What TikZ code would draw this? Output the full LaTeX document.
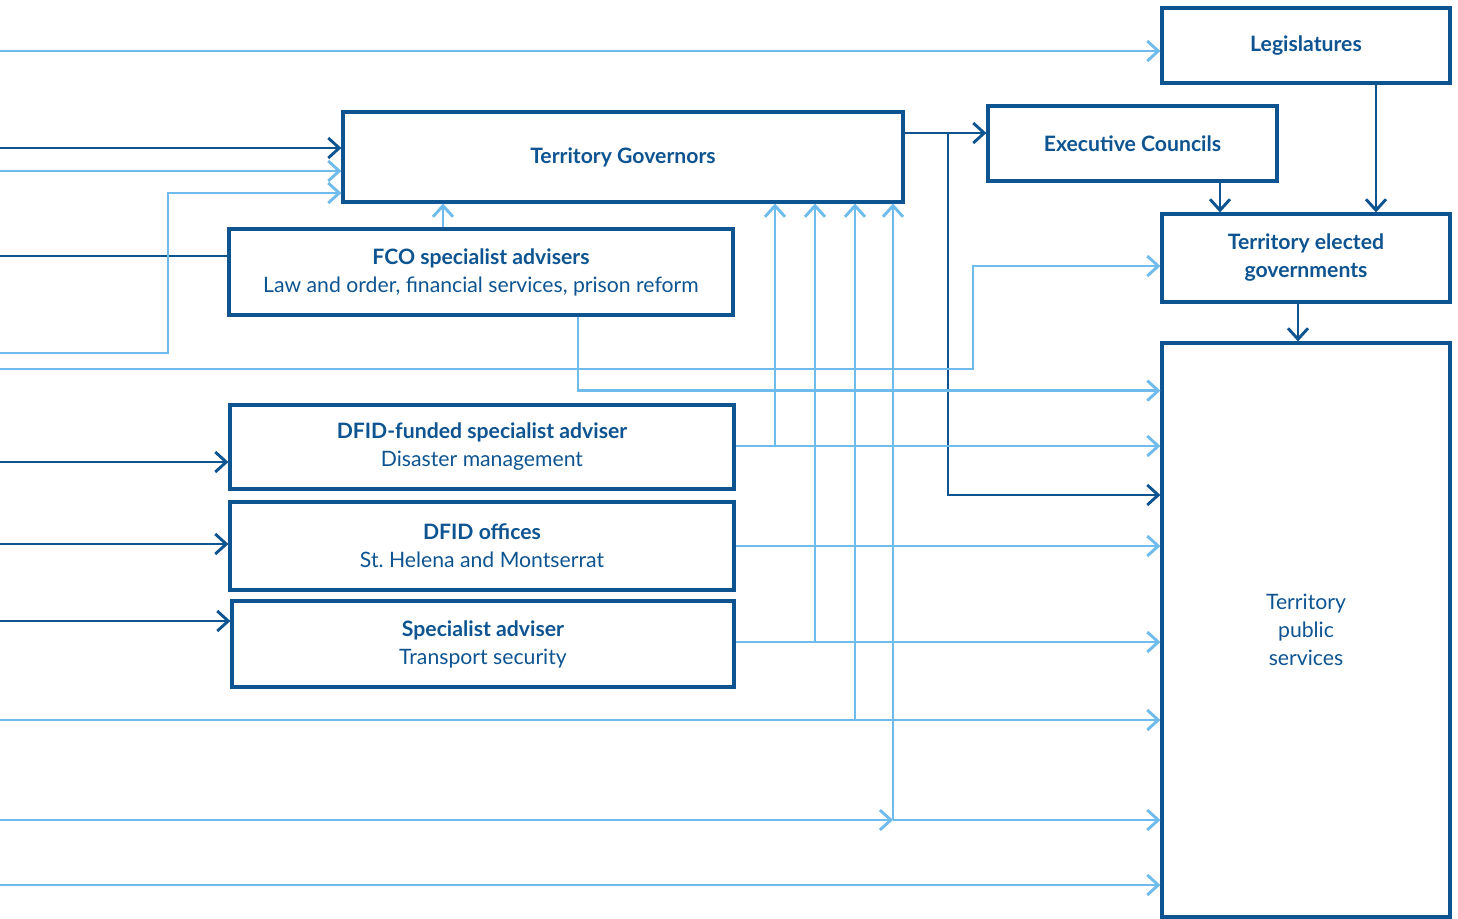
\documentclass[tikz,border=0pt]{standalone}
\usepackage{fontspec}
\setmainfont{Lato}
\usetikzlibrary{arrows.meta, calc}
\definecolor{fcodark}{HTML}{0E5491}
\definecolor{fcolite}{HTML}{6FBBEB}
\tikzset{
	orgbox/.style={draw=fcodark, line width=1.6pt, text=fcodark, align=center, inner sep=0pt,
		font=\fontsize{10.6}{14}\selectfont},
	darkline/.style={draw=fcodark, line width=1.45pt},
	liteline/.style={draw=fcolite, line width=1.45pt},
	barb/.style={-{Straight Barb[length=5.5pt, width=10pt]}}
}
\begin{document}
\begin{tikzpicture}[x=0.5pt, y=-0.5pt, line cap=butt]
	\useasboundingbox (0,0) rectangle (1458,918);

	% boxes
	\node[orgbox, minimum width=144pt, minimum height=37.5pt] (Leg) at (1306,45.5) {\textbf{Legislatures}};
	\node[orgbox, minimum width=280pt, minimum height=45pt] (Gov) at (623,157) {\textbf{Territory Governors}};
	\node[orgbox, minimum width=144.5pt, minimum height=37.5pt] (Exe) at (1132.5,143.5) {\textbf{Executive Councils}};
	\node[orgbox, minimum width=144pt, minimum height=44pt] (Elec) at (1306,258) {\textbf{Territory elected}\\\textbf{governments}};
	\node[orgbox, minimum width=252pt, minimum height=43pt] (FCO) at (481,272) {\textbf{FCO specialist advisers}\\Law and order, financial services, prison reform};
	\node[orgbox, minimum width=252pt, minimum height=42pt] (DFa) at (482,447) {\textbf{DFID-funded specialist adviser}\\Disaster management};
	\node[orgbox, minimum width=252pt, minimum height=44pt] (DFo) at (482,546) {\textbf{DFID offices}\\St.~Helena and Montserrat};
	\node[orgbox, minimum width=251pt, minimum height=43pt] (Spec) at (483,644) {\textbf{Specialist adviser}\\Transport security};
	\node[orgbox, minimum width=144pt, minimum height=287pt] (Pub) at (1306,630) {Territory\\public\\services};

	% free ends on the left
	\coordinate (L1) at (0,51);
	\coordinate (D1) at (0,148);
	\coordinate (L2) at (0,171);
	\coordinate (D2) at (0,256);
	\coordinate (L3) at (0,353);
	\coordinate (L4) at (0,369);
	\coordinate (D3) at (0,462);
	\coordinate (D4) at (0,544);
	\coordinate (D5) at (0,621);
	\coordinate (L5) at (0,720);
	\coordinate (L6) at (0,820);
	\coordinate (L7) at (0,885);

	% bends and junctions
	\coordinate (B3) at (168,193);
	\coordinate (B4) at (973,266);
	\coordinate (F) at ($(FCO.south)+(97,0)$);
	\coordinate (FO) at ($(F)+(0,74)$);
	\coordinate (FU) at ($(FCO.north)+(-38,0)$);
	\coordinate (G) at (948,133);
	\coordinate (GP) at (948,495);
	\coordinate (E) at ($(Exe.south)+(87.5,0)$);
	\coordinate (LS) at ($(Leg.south)+(70,0)$);
	\coordinate (ES) at ($(Elec.south)+(-8,0)$);
	\coordinate (Ja) at (775,446);
	\coordinate (Js) at (815,642);
	\coordinate (J5) at (855,720);
	\coordinate (J6) at (893,820);

	% dark connectors
	\draw[darkline, barb] (D1) -- (D1 -| Gov.west);
	\draw[darkline] (D2) -- (D2 -| FCO.west);
	\draw[darkline, barb] (D3) -- (D3 -| DFa.west);
	\draw[darkline, barb] (D4) -- (D4 -| DFo.west);
	\draw[darkline, barb] (D5) -- (D5 -| Spec.west);
	\draw[darkline, barb] (G -| Gov.east) -- (G -| Exe.west);
	\draw[darkline, barb] (G) -- (GP) -- (GP -| Pub.west);
	\draw[darkline, barb] (E) -- (E |- Elec.north);
	\draw[darkline, barb] (LS) -- (LS |- Elec.north);
	\draw[darkline, barb] (ES) -- (ES |- Pub.north);

	% light connectors
	\draw[liteline, barb] (L1) -- (L1 -| Leg.west);
	\draw[liteline, barb] (L2) -- (L2 -| Gov.west);
	\draw[liteline, barb] (L3) -| (B3) -- (B3 -| Gov.west);
	\draw[liteline, barb] (L4) -| (B4) -- (B4 -| Elec.west);
	\draw[liteline, barb] (FU) -- (FU |- Gov.south);
	\draw[liteline, barb] (F) -- (FO) -- (FO -| Pub.west);
	\draw[liteline, barb] (Ja -| DFa.east) -- (Ja -| Pub.west);
	\draw[liteline, barb] (Ja) -- (Ja |- Gov.south);
	\draw[liteline, barb] (DFo.east) -- (DFo.east -| Pub.west);
	\draw[liteline, barb] (Js -| Spec.east) -- (Js -| Pub.west);
	\draw[liteline, barb] (Js) -- (Js |- Gov.south);
	\draw[liteline, barb] (L5) -- (L5 -| Pub.west);
	\draw[liteline, barb] (J5) -- (J5 |- Gov.south);
	\draw[liteline, barb] (L6) -- (J6);
	\draw[liteline, barb] (J6) -- (J6 -| Pub.west);
	\draw[liteline, barb] (J6) -- (J6 |- Gov.south);
	\draw[liteline, barb] (L7) -- (L7 -| Pub.west);
\end{tikzpicture}
\end{document}
